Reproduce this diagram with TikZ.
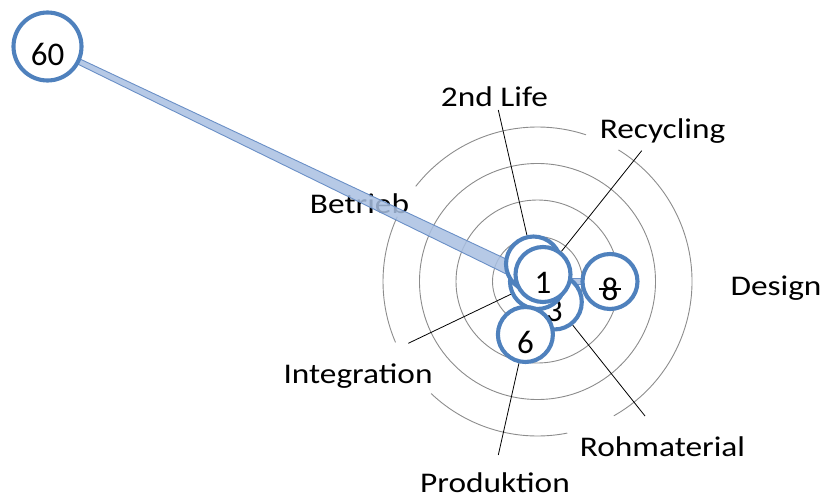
\documentclass[tikz,border=0pt]{standalone}
\usepackage{fontspec}
\setmainfont{Carlito}[FakeStretch=1.17]
\newfontfamily\numfont{Carlito}
\usetikzlibrary{calc}
\pgfdeclarelayer{background}
\pgfsetlayers{background,main}
\definecolor{bubblue}{HTML}{4F81BD}
\definecolor{bandfill}{HTML}{A9C0E2}
\definecolor{bandedge}{HTML}{6A8FC6}
\definecolor{ringgray}{HTML}{8C8C8C}
\begin{document}
\begin{tikzpicture}[x=1pt,y=1pt,
  ring/.style={draw=ringgray, line width=0.9pt},
  bubble/.style={circle, draw=bubblue, line width=4.1pt, fill=white, minimum size=55pt, inner sep=0pt},
  bigbubble/.style={bubble, minimum size=68pt},
  val/.style={anchor=base, font=\numfont\fontsize{33}{37}\selectfont, inner sep=0pt},
  cat/.style={anchor=base, font=\fontsize{28.5}{32}\selectfont, inner sep=0pt},
  leader/.style={draw=black, line width=0.8pt},
  band/.style={fill=bandfill, fill opacity=0.85, draw=bandedge, line width=0.9pt},
]
\useasboundingbox (0,0) rectangle (824,-500);
\coordinate (C) at (537.5,-281.5);

% bubbles (main layer, in drawing order)
\node[bubble] (b8) at (610,-281.5) {};
\node[val] (v8) at ($(b8)+(0,-19)$) {8};
\draw[line width=1.3pt] ($(b8)+(-11,-7.5)$) -- ($(b8)+(11,-7.5)$);
\node[bubble] (b3) at (554.3,-302) {};
\node[val] (v3) at ($(b3)+(0,-19)$) {3};
\node[bubble] (b0) at (C) {};
\node[bubble] (b6) at (525.4,-334.5) {};
\node[val] (v6) at ($(b6)+(0,-19)$) {6};
\node[bubble] (b2) at (533.5,-264) {};
\node[bubble] (b1) at (543,-274.5) {};
\node[val] (v1) at ($(b1)+(0,-19)$) {1};
\node[bigbubble] (b60) at (47.5,-46.5) {};
\node[val] (v60) at ($(b60)+(0,-19)$) {60};

\begin{pgfonlayer}{background}
% rings
\foreach \r in {45,81.5,118} \draw[ring] (C) circle[radius=\r];
\draw[ring] (C) ++(-60.4:154.5) arc[start angle=-60.4, end angle=58.4, radius=154.5];
\draw[ring] (C) ++(71.7:154.5) arc[start angle=71.7, end angle=142, radius=154.5];
\draw[ring] (C) ++(155.2:154.5) arc[start angle=155.2, end angle=203.2, radius=154.5];
\draw[ring] (C) ++(226.5:154.5) arc[start angle=226.5, end angle=281.1, radius=154.5];

% category labels
\node[cat] (tLife) at (494.5,-107) {2nd Life};
\node[cat] (tRec) at (662.5,-139) {Recycling};
\node[cat] (tBet) at (359.5,-213) {Betrieb};
\node[cat] (tDes) at (776,-295) {Design};
\node[cat] (tInt) at (358,-383) {Integration};
\node[cat] (tRoh) at (662.5,-456) {Rohmaterial};
\node[cat] (tPro) at (495,-492.5) {Produktion};

% bands
\path[band] ($(C)!7pt!90:(b60)$) -- ($(b60)!2.5pt!-90:(C)$) -- ($(b60)!2.5pt!90:(C)$) -- ($(C)!7pt!-90:(b60)$) -- cycle;
\path[band] ($(C)!3pt!90:(b8)$) -- ($(b8)!3pt!-90:(C)$) -- ($(b8)!3pt!90:(C)$) -- ($(C)!3pt!-90:(b8)$) -- cycle;

% leader lines
\coordinate (lLife) at (498.3,-110);
\coordinate (lRec) at (641.7,-150.7);
\coordinate (lInt) at (408.3,-343.3);
\coordinate (lRoh) at (645,-416);
\coordinate (lPro) at (498.3,-455);
\draw[leader] (lLife) -- (b2);
\draw[leader] (lRec) -- (b1);
\draw[leader] (lInt) -- (b0);
\draw[leader] (lRoh) -- (b3);
\draw[leader] (lPro) -- (b6);
\end{pgfonlayer}
\end{tikzpicture}
\end{document}
